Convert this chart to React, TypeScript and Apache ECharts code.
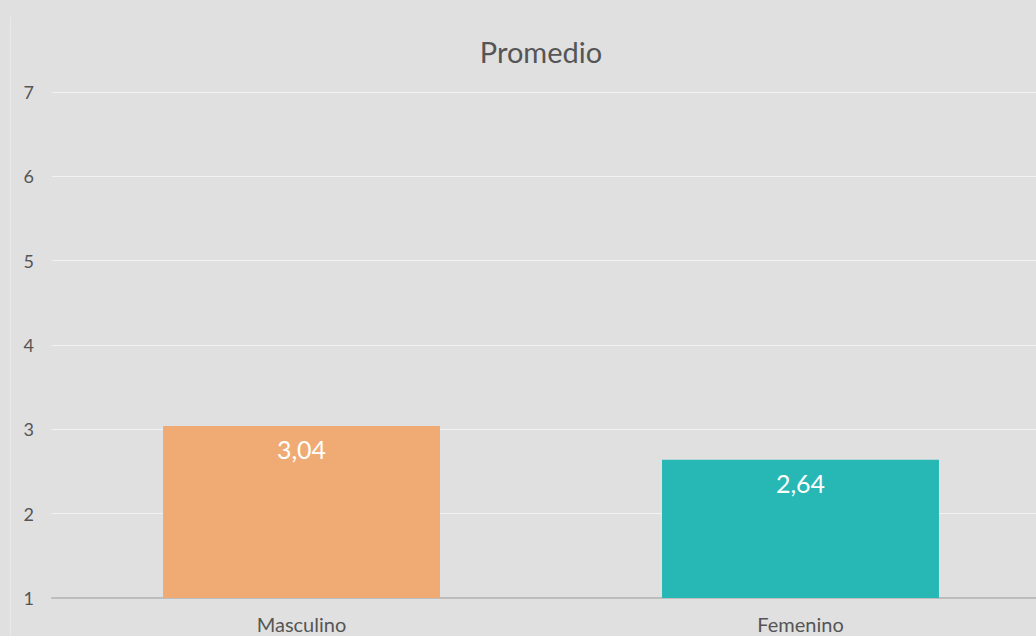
import React, { useEffect, useRef } from "react";
import * as echarts from "echarts";

const categories = ["Masculino", "Femenino"];
const values = [3.04, 2.64];
const barColors = ["#f0ab74", "#27b7b4"];
const yTicks = [1, 2, 3, 4, 5, 6, 7];

const FONT = "Lato, 'Noto Sans', sans-serif";

export default function App() {
  const ref = useRef<HTMLDivElement>(null);
  useEffect(() => {
    document.body.style.margin = "0";
    const chart = echarts.init(ref.current!, null, { renderer: "svg" });
    chart.setOption({
      animation: false,
      backgroundColor: "#e0e0e0",
      title: {
        text: "Promedio",
        left: "center",
        top: 32,
        textStyle: { color: "#555555", fontSize: 29, fontWeight: "normal", fontFamily: FONT },
      },
      graphic: [
        {
          type: "line",
          shape: { x1: 10.5, y1: 17, x2: 10.5, y2: 636 },
          style: { stroke: "#e9e9e9", lineWidth: 1 },
        },
      ],
      grid: { left: 52, right: 32, top: 92, bottom: 38, containLabel: false },
      xAxis: {
        type: "category",
        data: categories,
        axisLine: { show: true, lineStyle: { color: "#bdbdbd", width: 2 } },
        axisTick: { show: false },
        axisLabel: { color: "#555555", fontSize: 20, fontFamily: FONT, margin: 16 },
      },
      yAxis: {
        type: "value",
        min: yTicks[0],
        max: yTicks[yTicks.length - 1],
        interval: 1,
        axisLine: { show: false },
        axisTick: { show: false },
        axisLabel: { color: "#555555", fontSize: 18, fontFamily: FONT, margin: 18 },
        splitLine: { lineStyle: { color: "#f2f2f2", width: 1 } },
      },
      series: [
        {
          type: "bar",
          barWidth: "55.5%",
          data: values.map((v, i) => ({ value: v, itemStyle: { color: barColors[i] } })),
          label: {
            show: true,
            position: "insideTop",
            distance: 11,
            color: "#ffffff",
            fontSize: 25,
            fontFamily: FONT,
            formatter: (p: any) => p.value.toFixed(2).replace(".", ","),
          },
        },
      ],
    });
    return () => chart.dispose();
  }, []);
  return (
    <div style={{ width: 1036, height: 636, overflow: "hidden" }}>
      <div ref={ref} style={{ width: 1082, height: 636 }} />
    </div>
  );
}
